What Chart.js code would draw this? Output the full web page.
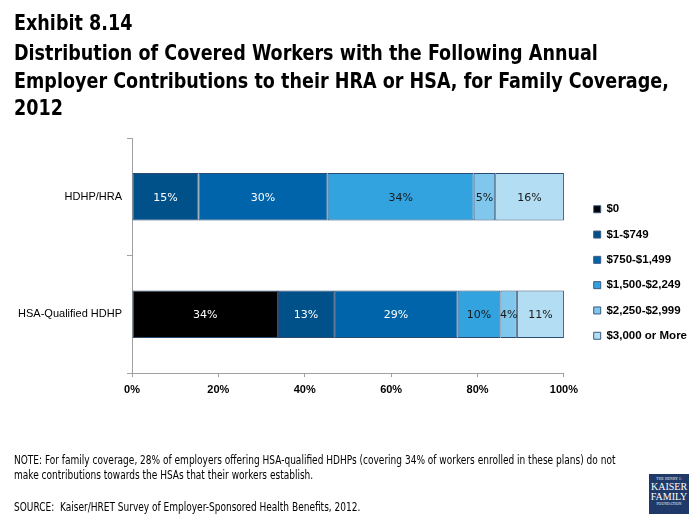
<!DOCTYPE html>
<html>
<head>
<meta charset="utf-8">
<script src="https://cdn.jsdelivr.net/npm/chart.js@4.4.1/dist/chart.umd.min.js"></script>
<style>
  html, body { margin: 0; padding: 0; background: #fff; }
  #page { position: relative; width: 697px; height: 523px; overflow: hidden; }
  #chart { position: absolute; left: 0; top: 0; }
  .title { position: absolute; left: 14px; font-family: "DejaVu Sans Condensed", sans-serif; font-weight: bold; font-size: 22px; color: #000; white-space: nowrap; line-height: 28px; transform: scaleX(0.888); transform-origin: 0 0; }
  .foot { position: absolute; left: 14px; font-family: "DejaVu Sans Condensed", sans-serif; font-size: 12px; color: #000; white-space: nowrap; line-height: 15px; transform: scaleX(0.835); transform-origin: 0 0; }
  #logo { position: absolute; left: 649px; top: 474px; width: 40px; height: 40px; background: #1F3A68; color: #fff; font-family: "Liberation Serif", serif; text-align: center; }
  #logo .s { font-size: 3.6px; letter-spacing: 0.2px; line-height: 5px; }
  #logo .b { font-size: 10px; line-height: 10px; }
</style>
</head>
<body>
<div id="page">
  <canvas id="chart" width="697" height="523"></canvas>
  <div class="title" style="top:9px">Exhibit 8.14</div>
  <div class="title" style="top:39px">Distribution of Covered Workers with the Following Annual</div>
  <div class="title" style="top:67px">Employer Contributions to their HRA or HSA, for Family Coverage,</div>
  <div class="title" style="top:94px">2012</div>
  <div class="foot" style="top:453px">NOTE: For family coverage, 28% of employers offering HSA-qualified HDHPs (covering 34% of workers enrolled in these plans) do not</div>
  <div class="foot" style="top:468px">make contributions towards the HSAs that their workers establish.</div>
  <div class="foot" style="top:500px">SOURCE:&nbsp; Kaiser/HRET Survey of Employer-Sponsored Health Benefits, 2012.</div>
  <div id="logo"><div class="s" style="padding-top:3px">THE HENRY J.</div><div class="b">KAISER</div><div class="b">FAMILY</div><div class="s">FOUNDATION</div></div>
</div>
<script>
const categories = ["HDHP/HRA", "HSA-Qualified HDHP"];
const seriesNames = ["$0", "$1-$749", "$750-$1,499", "$1,500-$2,249", "$2,250-$2,999", "$3,000 or More"];
const s0 = [0, 33.8];
const s1 = [15.4, 13.0];
const s2 = [29.9, 28.6];
const s3 = [33.8, 9.9];
const s4 = [5.0, 3.8];
const s5 = [15.9, 10.9];
const xTicks = [0, 20, 40, 60, 80, 100];

const seriesValues = [s0, s1, s2, s3, s4, s5];
const fills = ["#000000", "#00508A", "#0064AA", "#33A3E0", "#80C7EE", "#B3DDF3"];
const labelColors = ["#ffffff", "#ffffff", "#ffffff", "#1a1a1a", "#1a1a1a", "#1a1a1a"];

const datasets = seriesValues.map((vals, i) => ({
  label: seriesNames[i],
  data: vals,
  backgroundColor: fills[i],
  borderColor: "#2A4A70",
  borderWidth: 1,
  borderSkipped: false,
  barPercentage: 1.0,
  categoryPercentage: 0.405
}));

const barLabels = {
  id: "barLabels",
  afterDatasetsDraw(chart) {
    const ctx = chart.ctx;
    ctx.save();
    ctx.font = "11px 'DejaVu Sans'";
    ctx.textAlign = "center";
    ctx.textBaseline = "middle";
    chart.data.datasets.forEach((ds, di) => {
      const meta = chart.getDatasetMeta(di);
      meta.data.forEach((el, j) => {
        const v = ds.data[j];
        if (!v) return;
        ctx.fillStyle = labelColors[di];
        ctx.fillText(Math.round(v) + "%", (el.x + el.base) / 2, el.y + 1);
      });
    });
    ctx.restore();
  }
};

const legendShift = {
  id: "legendShift",
  afterLayout(chart) {
    const lg = chart.legend;
    if (!lg) return;
    lg.left += 16; lg.right += 16;
    lg.top += 2; lg.bottom += 2;
  }
};

new Chart(document.getElementById("chart"), {
  type: "bar",
  data: { labels: categories, datasets },
  options: {
    indexAxis: "y",
    responsive: false,
    animation: false,
    layout: { padding: { top: 138, left: 0, bottom: 120, right: 16 } },
    plugins: {
      legend: {
        position: "right",
        align: "center",
        labels: {
          boxWidth: 7, boxHeight: 7, padding: 13.8,
          color: "#000",
          font: { family: "'Liberation Sans'", size: 11.5, weight: "bold" },
          generateLabels(chart) {
            return chart.data.datasets.map((ds, i) => ({
              text: ds.label, fillStyle: ds.backgroundColor, strokeStyle: "#3A5A80",
              lineWidth: 1, hidden: false, datasetIndex: i, fontColor: "#000"
            }));
          }
        }
      },
      tooltip: { enabled: false }
    },
    scales: {
      x: {
        stacked: true, min: 0, max: 100,
        afterBuildTicks(scale) { scale.ticks = xTicks.map(v => ({ value: v })); },
        afterFit(scale) { scale.height = 30; },
        grid: { drawOnChartArea: false, drawTicks: true, tickLength: 4, color: "#A0A0A0" },
        border: { color: "#A0A0A0" },
        ticks: { padding: 6, color: "#000", font: { family: "'Liberation Sans'", size: 11, weight: "bold" }, callback: v => v + "%" }
      },
      y: {
        stacked: true, offset: true,
        afterFit(scale) { scale.width = 132; },
        grid: { offset: true, drawOnChartArea: false, drawTicks: true, tickLength: 5, color: "#A0A0A0" },
        border: { color: "#A0A0A0" },
        ticks: { padding: 5, color: "#000", font: { family: "'Liberation Sans'", size: 11 } }
      }
    }
  },
  plugins: [barLabels, legendShift]
});
</script>
</body>
</html>
